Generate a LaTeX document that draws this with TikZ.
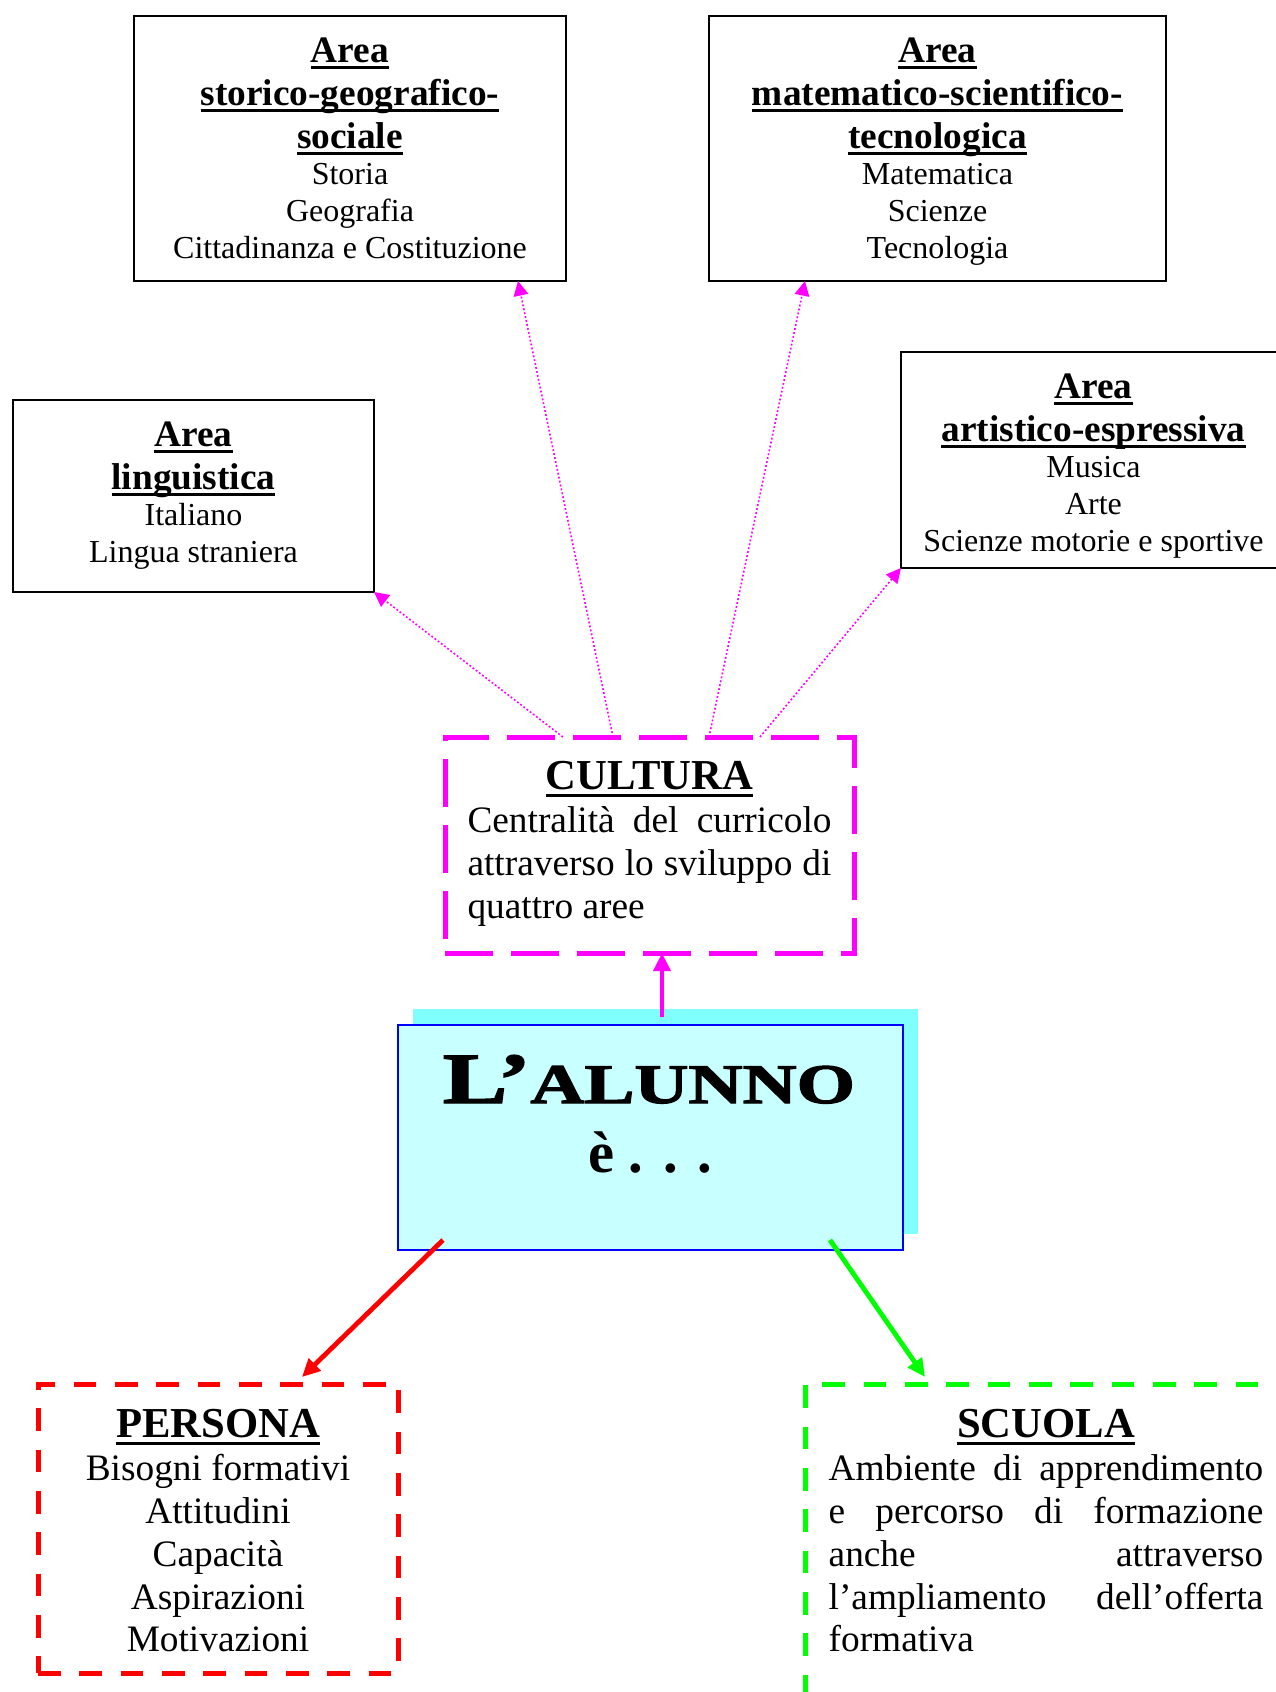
\documentclass[tikz,border=0pt]{standalone}
\usepackage{fontspec}
\usepackage{graphicx}
\setmainfont{Liberation Serif}
\newfontfamily\heavyfont{Liberation Serif}[BoldFeatures={FakeBold=2}]
\usetikzlibrary{arrows.meta,calc}
\definecolor{mag}{RGB}{255,0,255}
\definecolor{rd}{RGB}{255,0,0}
\definecolor{gr}{RGB}{0,255,0}
\definecolor{alfill}{RGB}{200,255,255}
\definecolor{alshadow}{RGB}{128,255,255}
\definecolor{albord}{RGB}{0,0,255}
\setlength\parindent{0pt}
\setlength\parskip{0pt}
\newsavebox\ulbox
\newcommand\ulx[1]{\leavevmode\sbox\ulbox{#1}\rlap{\rule[-0.19em]{\wd\ulbox}{0.085em}}\usebox\ulbox}
\newcommand\ft[2]{\fontsize{#1}{#2}\selectfont\spaceskip=\fontdimen2\font\relax\xspaceskip=\fontdimen2\font\relax}
\newcommand\jl[2]{\makebox[#1][s]{\spaceskip=0pt\xspaceskip=0pt\relax #2}}
\begin{document}
\begin{tikzpicture}[x=0.75pt,y=-0.75pt,
  every node/.style={outer sep=0pt},
  areabox/.style={draw=black, line width=1.5pt, inner sep=0pt},
  magbox/.style={draw=mag, line width=3.75pt, dash pattern=on 36pt off 13.5pt, inner sep=0pt},
  redbox/.style={draw=rd, line width=3.75pt, dash pattern=on 17pt off 14pt, inner sep=0pt},
  grbox/.style={draw=gr, line width=3.75pt, dash pattern=on 17pt off 14pt, inner sep=0pt},
  boxtxt/.style={inner sep=0pt, align=center, anchor=north},
  dotarrow/.style={draw=mag, line width=1.2pt, dash pattern=on 1.4pt off 1.6pt, -{Triangle[length=11pt,width=11pt]}},
  thickarrow/.style={line width=3.6pt, -{Triangle[length=13.5pt,width=12.5pt]}},
  txt/.style={inner sep=0pt}]
\useasboundingbox (0,0) rectangle (1276,1692);

% Area boxes
\node[areabox, minimum width=324pt, minimum height=198.75pt] (storico) at (350,148.5) {};
\node[boxtxt, text width=318pt] (storicoT) at ($(storico.north)+(0,21.5)$)
 {{\ft{28}{32.2}\bfseries\ulx{Area}\\\ulx{storico-geografico-}\\\ulx{sociale}\par}%
  {\ft{24}{27.6}Storia\\Geografia\\Cittadinanza e Costituzione\par}};

\node[areabox, minimum width=342.75pt, minimum height=198.75pt] (matem) at (937.5,148.5) {};
\node[boxtxt, text width=336pt] (matemT) at ($(matem.north)+(0,21.5)$)
 {{\ft{28}{32.2}\bfseries\ulx{Area}\\\ulx{matematico-scientifico-}\\\ulx{tecnologica}\par}%
  {\ft{24}{27.6}Matematica\\Scienze\\Tecnologia\par}};

\node[areabox, minimum width=270.75pt, minimum height=144pt] (ling) at (193.5,496) {};
\node[boxtxt, text width=264pt] (lingT) at ($(ling.north)+(0,21.5)$)
 {{\ft{28}{32.2}\bfseries\ulx{Area}\\\ulx{linguistica}\par}%
  {\ft{24}{27.6}Italiano\\Lingua straniera\par}};

\node[areabox, minimum width=288.75pt, minimum height=162pt] (art) at (1093.5,460) {};
\node[boxtxt, text width=282pt] (artT) at ($(art.north)+(0,21.5)$)
 {{\ft{28}{32.2}\bfseries\ulx{Area}\\\ulx{artistico-espressiva}\par}%
  {\ft{24}{27.6}Musica\\Arte\\Scienze motorie e sportive\par}};

% Cultura
\node[magbox, minimum width=306.75pt, minimum height=162pt] (cultura) at (649.5,845) {};
\node[boxtxt, text width=290pt] (culturaT) at ($(cultura.north)+(0,24)$)
 {{\ft{32}{36.8}\bfseries\ulx{CULTURA}\par}%
  {\ft{28}{32.2}\jl{273pt}{Centralità del curricolo}\\\jl{273pt}{attraverso lo sviluppo di}\\\makebox[273pt][l]{quattro aree}\par}};

% Alunno
\node[fill=alshadow, inner sep=0pt, minimum width=378.75pt, minimum height=168.75pt] (alshad) at (665.5,1121.5) {};
\node[fill=alfill, draw=albord, line width=1.3pt, inner sep=0pt, minimum width=378.75pt, minimum height=168.75pt] (alunno) at (650.5,1137.5) {};
\node[txt, anchor=base] (alunnoA) at (649,1103)
 {\resizebox{309pt}{\height}{\heavyfont\bfseries\fontsize{54}{60}\selectfont L’\fontsize{42}{48}\selectfont ALUNNO}};
\node[txt, anchor=base] (alunnoB) at (650,1172)
 {\bfseries\fontsize{44}{50}\selectfont è . . .};

% Persona
\node[redbox, minimum width=270pt, minimum height=216.75pt] (persona) at (218,1528.5) {};
\node[boxtxt, text width=262pt] (personaT) at ($(persona.north)+(0,25)$)
 {{\ft{32}{36.8}\bfseries\ulx{PERSONA}\par}%
  {\ft{28}{32.2}Bisogni formativi\\Attitudini\\Capacità\\Aspirazioni\\Motivazioni\par}};

% Scuola
\node[grbox, minimum width=361.5pt, minimum height=237pt] (scuola) at (1046,1542) {};
\node[boxtxt, text width=340pt] (scuolaT) at ($(scuola.north)+(0,25)$)
 {{\ft{32}{36.8}\bfseries\ulx{SCUOLA}\par}%
  {\ft{28}{32.2}\jl{326pt}{Ambiente di apprendimento}\\\jl{326pt}{e percorso di formazione}\\\jl{326pt}{anche attraverso}\\\jl{326pt}{l’ampliamento dell’offerta}\\\makebox[326pt][l]{formativa}\par}};

% Connectors
\draw[dotarrow] ($(cultura.north west)+(118,0)$) -- (ling.south east);
\draw[dotarrow] ($(cultura.north west)+(168,0)$) -- ($(storico.south west)+(384,0)$);
\draw[dotarrow] ($(cultura.north west)+(264,0)$) -- ($(matem.south west)+(96,0)$);
\draw[dotarrow] ($(cultura.north west)+(315,0)$) -- (art.south west);
\draw[thickarrow, draw=mag, fill=mag] ($(alunno.north west)+(264,-8)$) -- ($(cultura.south west)+(217,0)$);
\draw[thickarrow, draw=rd, fill=rd] ($(alunno.south west)+(45,-10)$) -- ($(persona.north west)+(264,-7)$);
\draw[thickarrow, draw=gr, fill=gr] ($(alunno.south west)+(432,-10)$) -- ($(scuola.north west)+(120,-7)$);
\end{tikzpicture}
\end{document}
